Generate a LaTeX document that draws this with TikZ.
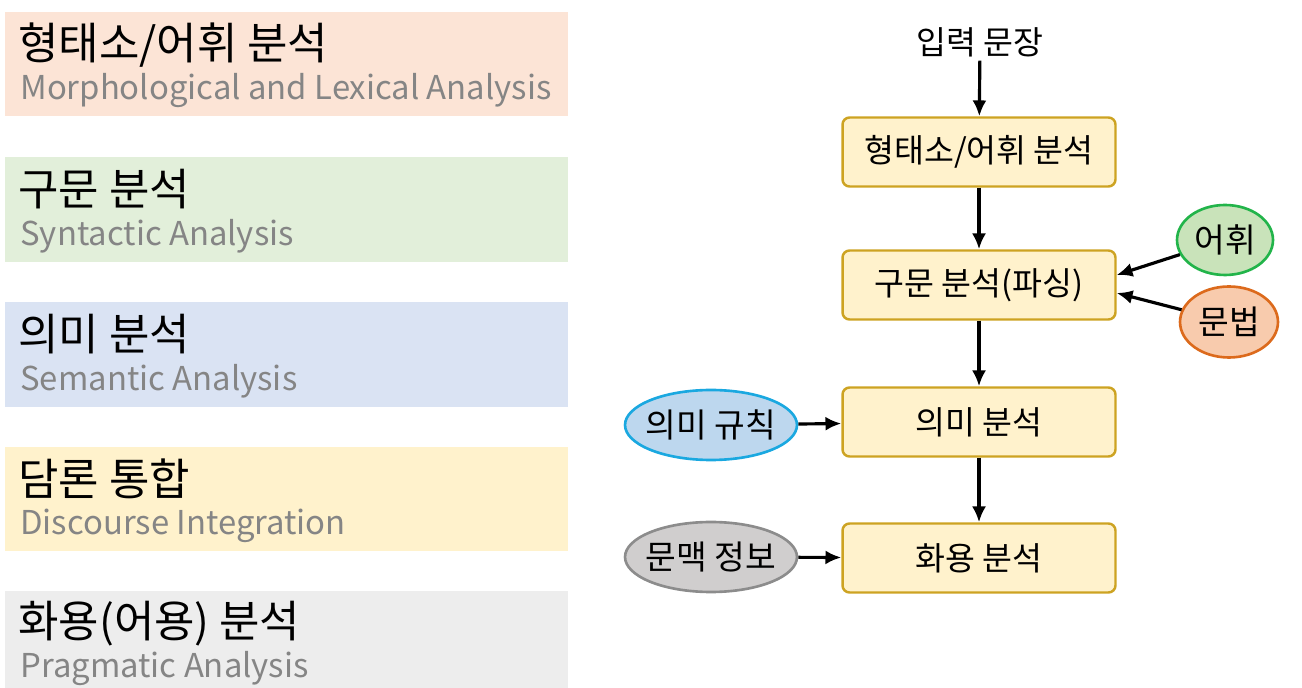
\documentclass[tikz,border=0pt]{standalone}
\usepackage{fontspec}
\setmainfont{Noto Sans CJK KR}
\usetikzlibrary{positioning,shapes.geometric,arrows.meta}
\definecolor{bandpink}{HTML}{FCE4D6}
\definecolor{bandgreen}{HTML}{E2EFDA}
\definecolor{bandblue}{HTML}{DAE3F3}
\definecolor{bandyellow}{HTML}{FFF2CC}
\definecolor{bandgray}{HTML}{EDEDED}
\definecolor{boxfill}{HTML}{FFF2CC}
\definecolor{boxline}{HTML}{CDA322}
\definecolor{subgray}{HTML}{858585}
\definecolor{lexfill}{HTML}{C9E3BA}
\definecolor{lexline}{HTML}{22B44A}
\definecolor{gramfill}{HTML}{F8CBAD}
\definecolor{gramline}{HTML}{DC6A1C}
\definecolor{rulefill}{HTML}{BDD7EE}
\definecolor{ruleline}{HTML}{1AA8E0}
\definecolor{ctxfill}{HTML}{D0CECE}
\definecolor{ctxline}{HTML}{8C8C8C}
\tikzset{
  title/.style={anchor=west,inner sep=0pt,font=\fontsize{25}{30}\selectfont},
  subtitle/.style={anchor=west,inner sep=0pt,text=subgray,font=\fontsize{18.7}{22}\selectfont},
  stage/.style={draw=boxline,fill=boxfill,line width=1.4pt,rounded corners=4pt,
    minimum width=5.46cm,minimum height=1.38cm,font=\fontsize{18.5}{22}\selectfont},
  source/.style={ellipse,line width=1.5pt,inner sep=0pt,font=\fontsize{19}{22}\selectfont},
  flow/.style={line width=1.8pt,-{Latex[length=9pt,width=8pt]}}
}
\begin{document}
\begin{tikzpicture}[x=0.02cm,y=-0.02cm]
        \useasboundingbox (0,0) rectangle (1302,688);
        %% Bands on the left
        \fill[bandpink] (5,12) rectangle (568,116);
        \fill[bandgreen] (5,157) rectangle (568,262);
        \fill[bandblue] (5,302) rectangle (568,407);
        \fill[bandyellow] (5,447) rectangle (568,551);
        \fill[bandgray] (5,591) rectangle (568,688);
        \node[title] (morphK) at (18,45) {형태소/어휘 분석};
        \node[subtitle] (morphE) at (20,91) {Morphological and Lexical Analysis};
        \node[title] (syntK) at (18,189) {구문 분석};
        \node[subtitle] (syntE) at (20,236) {Syntactic Analysis};
        \node[title] (semK) at (18,334) {의미 분석};
        \node[subtitle] (semE) at (20,381) {Semantic Analysis};
        \node[title] (discK) at (18,479) {담론 통합};
        \node[subtitle] (discE) at (20,526) {Discourse Integration};
        \node[title] (pragK) at (18,624) {화용(어용) 분석};
        \node[subtitle] (pragE) at (20,669) {Pragmatic Analysis};
        %% Pipeline on the right
        \node[font=\fontsize{18.5}{22}\selectfont,inner sep=2pt] (input) at (980,42) {입력 문장};
        \node[stage] (morph) at (979,152) {형태소/어휘 분석};
        \node[stage] (parse) at (979,285) {구문 분석(파싱)};
        \node[stage] (sem) at (979,422) {의미 분석};
        \node[stage] (prag) at (979,558) {화용 분석};
        \draw[flow] (input) -- (morph);
        \draw[flow] (morph) -- (parse);
        \draw[flow] (parse) -- (sem);
        \draw[flow] (sem) -- (prag);
        %% Side inputs
        \node[source,draw=lexline,fill=lexfill,minimum width=1.92cm,minimum height=1.4cm] (lex) at (1225,240) {어휘};
        \node[source,draw=gramline,fill=gramfill,minimum width=1.96cm,minimum height=1.42cm] (gram) at (1229,322) {문법};
        \node[source,draw=ruleline,fill=rulefill,inner xsep=-3pt,minimum width=3.44cm,minimum height=1.4cm] (rule) at (711,425) {의미 규칙};
        \node[source,draw=ctxline,fill=ctxfill,inner xsep=-3pt,minimum width=3.44cm,minimum height=1.4cm] (ctx) at (711,557) {문맥 정보};
        \draw[flow] (lex) -- ([yshift=0.2cm]parse.east);
        \draw[flow] (gram) -- ([yshift=-0.16cm]parse.east);
        \draw[flow] (rule) -- (sem);
        \draw[flow] (ctx) -- (prag);
\end{tikzpicture}
\end{document}
